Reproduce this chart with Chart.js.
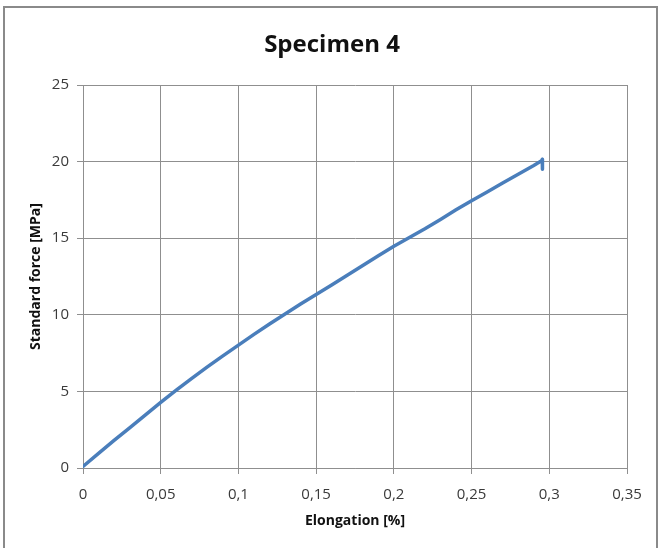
<!DOCTYPE html>
<html>
<head>
<meta charset="utf-8">
<script src="https://cdn.jsdelivr.net/npm/chart.js@4/dist/chart.umd.min.js"></script>
<style>
  html, body { margin: 0; padding: 0; background: #ffffff; }
  #wrap { position: relative; width: 664px; height: 548px; }
</style>
</head>
<body>
<div id="wrap"><canvas id="c" width="664" height="548"></canvas></div>
<script>
// Tensile test record, specimen 4
const chartTitle = 'Specimen 4';
const xTitle = 'Elongation [%]';
const yTitle = 'Standard force [MPa]';

// Elongation [%] readings
const elongation = [0, 0.01, 0.02, 0.03, 0.04, 0.05, 0.06, 0.07, 0.08, 0.09,
  0.10, 0.11, 0.12, 0.13, 0.14, 0.15, 0.16, 0.17, 0.18, 0.19,
  0.20, 0.21, 0.22, 0.23, 0.24, 0.25, 0.26, 0.27, 0.28, 0.29,
  0.295, 0.2955, 0.2956];
// Standard force [MPa] at each elongation reading
const force = [0.1, 0.95, 1.8, 2.62, 3.45, 4.28, 5.08, 5.85, 6.6, 7.32,
  8.02, 8.72, 9.4, 10.05, 10.7, 11.32, 11.95, 12.58, 13.22, 13.85,
  14.48, 15.05, 15.62, 16.22, 16.85, 17.45, 18.02, 18.6, 19.18, 19.75,
  20.05, 20.15, 19.5];

// Axis ranges and tick steps
const xMin = 0, xMax = 0.35, xStep = 0.05;
const yMin = 0, yMax = 25, yStep = 5;

const points = elongation.map((x, i) => ({ x: x, y: force[i] }));

const fontFamily = '"Open Sans", "DejaVu Sans", sans-serif';
const gridColor = '#8f8f8f';
const textColor = '#3a3a3a';

// Outer frame of the chart object
const framePlugin = {
  id: 'frame',
  afterDraw(chart) {
    const ctx = chart.ctx;
    ctx.save();
    ctx.strokeStyle = '#8a8a8a';
    ctx.lineWidth = 2;
    ctx.strokeRect(4, 7, 653, 560);
    ctx.restore();
  }
};

new Chart(document.getElementById('c'), {
  type: 'line',
  data: {
    datasets: [{
      data: points,
      borderColor: '#4a7ebb',
      backgroundColor: '#4a7ebb',
      borderWidth: 3.5,
      pointRadius: 0,
      tension: 0,
      fill: false,
      borderCapStyle: 'round',
      borderJoinStyle: 'round'
    }]
  },
  options: {
    responsive: false,
    animation: false,
    devicePixelRatio: 1,
    layout: { padding: { top: 28, right: 0, bottom: 0, left: 0 } },
    plugins: {
      legend: { display: false },
      tooltip: { enabled: false },
      title: {
        display: true,
        text: chartTitle,
        color: '#111111',
        font: { family: fontFamily, size: 24, weight: 'bold', lineHeight: 1.2 },
        padding: { top: 3, bottom: 25.2 }
      }
    },
    scales: {
      x: {
        type: 'linear',
        min: xMin,
        max: xMax,
        afterFit(scale) { scale.height = 80; scale.paddingRight = 37; },
        grid: { color: gridColor, lineWidth: 1, tickLength: 6, drawTicks: true },
        border: { color: gridColor, width: 1 },
        ticks: {
          stepSize: xStep,
          color: textColor,
          padding: 12,
          maxRotation: 0,
          font: { family: fontFamily, size: 15 },
          callback: (v) => Number(v.toFixed(2)).toString().replace('.', ',')
        },
        title: {
          display: true,
          text: xTitle,
          color: '#111111',
          font: { family: fontFamily, size: 14, weight: 'bold' },
          padding: { top: 19, bottom: 19 }
        }
      },
      y: {
        type: 'linear',
        min: yMin,
        max: yMax,
        afterFit(scale) { scale.width = 83; },
        grid: { color: gridColor, lineWidth: 1, tickLength: 6, drawTicks: true },
        border: { color: gridColor, width: 1 },
        ticks: {
          stepSize: yStep,
          color: textColor,
          padding: 8,
          font: { family: fontFamily, size: 15 }
        },
        title: {
          display: true,
          text: yTitle,
          color: '#111111',
          font: { family: fontFamily, size: 14, weight: 'bold' },
          padding: { top: 28, bottom: 28 }
        }
      }
    }
  },
  plugins: [framePlugin]
});
</script>
</body>
</html>
